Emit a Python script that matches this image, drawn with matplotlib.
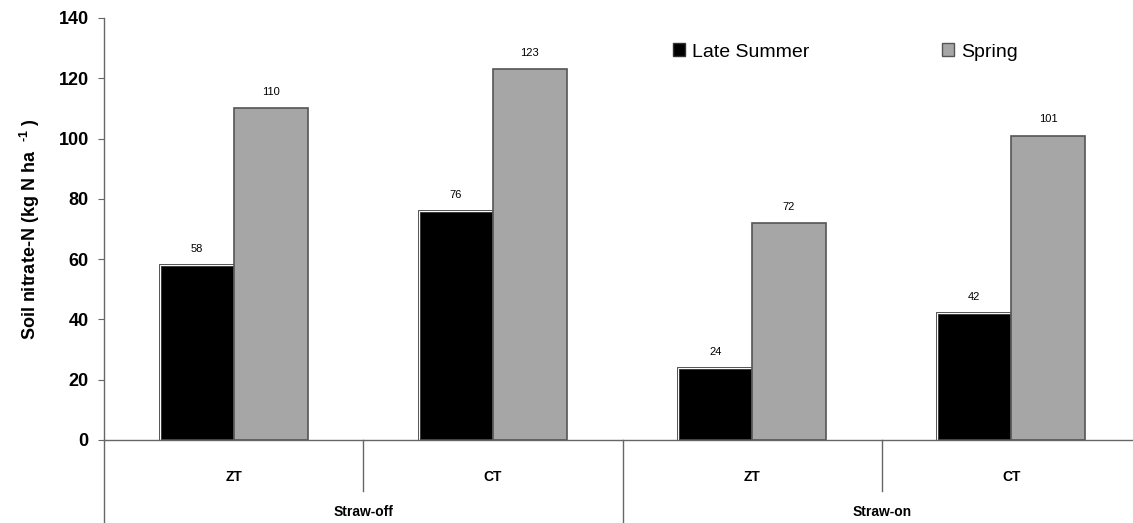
import numpy as np
import matplotlib
matplotlib.use("Agg")
import matplotlib.pyplot as plt
from matplotlib.patches import Patch

plt.rcParams["font.family"] = ["Liberation Sans", "DejaVu Sans"]
plt.rcParams["mathtext.fontset"] = "custom"
plt.rcParams["mathtext.rm"] = "Liberation Sans:bold"
plt.rcParams["mathtext.bf"] = "Liberation Sans:bold"

tillage = ["ZT", "CT", "ZT", "CT"]
straw = ["Straw-off", "Straw-on"]
late_summer = [58, 76, 24, 42]
spring = [110, 123, 72, 101]
y_ticks = [0, 20, 40, 60, 80, 100, 120, 140]

BLACK = "#000000"
GREY = "#a6a6a6"
AXIS = "#666666"

W, H = 1133, 523
fig = plt.figure(figsize=(W / 100, H / 100), dpi=100)
ax_w = 1141 - 104
ax = fig.add_axes([104 / W, 1 - 440 / H, ax_w / W, (440 - 18) / H])

x = np.arange(len(tillage))
w = 0.285
b1 = ax.bar(x - w / 2, late_summer, w, color=BLACK, edgecolor="#444444", linewidth=2)
ax.bar(x - w / 2, late_summer, w, facecolor="none", edgecolor="white", linewidth=0.7)
b2 = ax.bar(x + w / 2, spring, w, color=GREY, edgecolor="#555555", linewidth=1.2)

for bars, vals in ((b1, late_summer), (b2, spring)):
    for rect, v in zip(bars, vals):
        ax.annotate(str(v), (rect.get_x() + rect.get_width() / 2, v),
                    xytext=(0, 8), textcoords="offset points",
                    ha="center", va="bottom", fontsize=8)

ax.set_xlim(-0.5, len(tillage) - 0.5)
ax.set_ylim(0, 140)
ax.set_yticks(y_ticks)
ax.set_yticklabels([str(t) for t in y_ticks], fontsize=13, fontweight="bold")
ax.tick_params(axis="y", direction="out", length=4, color=AXIS, pad=7)
ax.set_xticks([])
for s in ("top", "right"):
    ax.spines[s].set_visible(False)
for s in ("left", "bottom"):
    ax.spines[s].set_color(AXIS)
    ax.spines[s].set_linewidth(1)

ax.set_ylabel(r"Soil nitrate-N (kg N ha  $^{\text{-1}}$ )", fontsize=13,
              fontweight="bold", labelpad=12)

# category axis below the plot
trans = ax.get_xaxis_transform()
for i, lab in enumerate(tillage):
    ax.text(i, -37 / 422, lab, transform=trans, ha="center", va="center",
            fontsize=10, fontweight="bold")
for j, lab in enumerate(straw):
    ax.text(2 * j + 0.5, -72 / 422, lab, transform=trans, ha="center",
            va="center", fontsize=10, fontweight="bold", clip_on=False)

# separators
for xs in (-0.5, 1.5):
    ax.plot([xs, xs], [0, -90 / 422], transform=trans, color=AXIS, lw=1, clip_on=False)
for xs in (0.5, 2.5):
    ax.plot([xs, xs], [0, -51 / 422], transform=trans, color=AXIS, lw=1, clip_on=False)

handles = [Patch(facecolor=BLACK, edgecolor="#333333", label="Late Summer"),
           Patch(facecolor=GREY, edgecolor="#555555", label="Spring")]
ax.legend(handles=handles, loc="center left",
          bbox_to_anchor=((673 - 104) / ax_w, 1 - 34 / 422),
          ncol=2, frameon=False, fontsize=14, handlelength=0.6, handleheight=0.6,
          handletextpad=0.4, columnspacing=6.8, borderpad=0, borderaxespad=0)

fig.savefig("out.png", dpi=100)
